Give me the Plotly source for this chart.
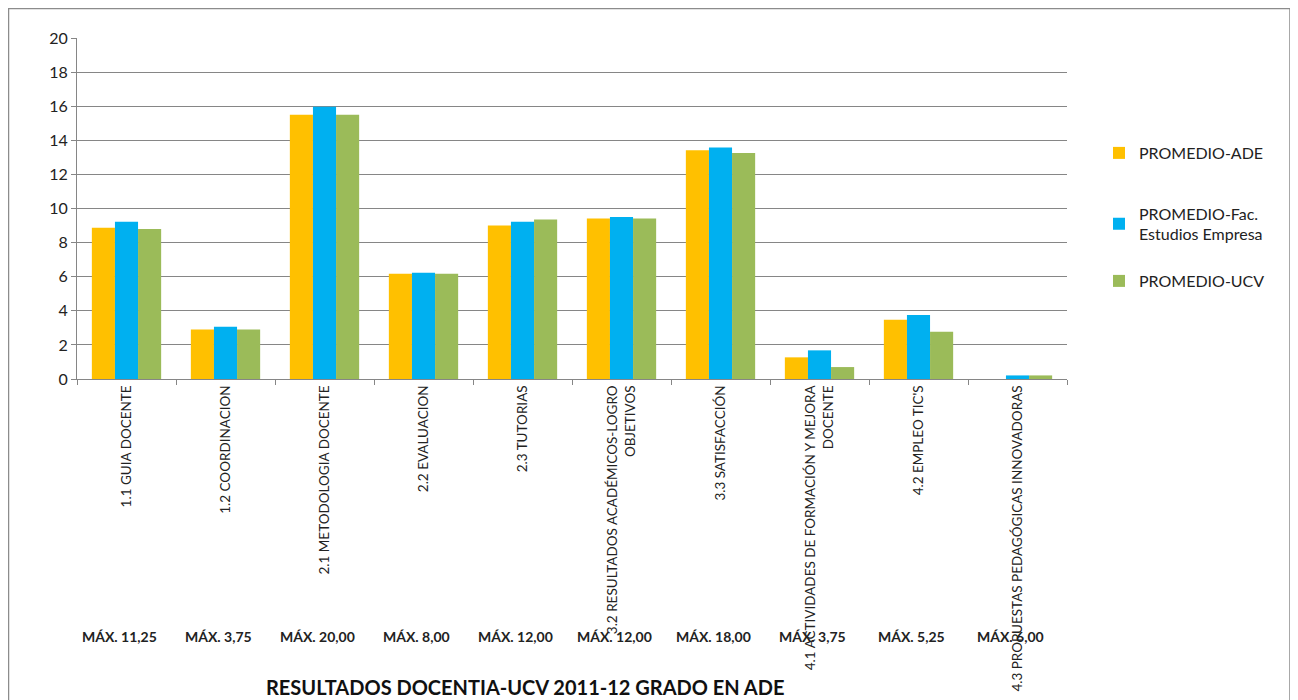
import plotly.graph_objects as go

categories = [
    "1.1 GUIA DOCENTE",
    "1.2 COORDINACION",
    "2.1 METODOLOGIA DOCENTE",
    "2.2 EVALUACION",
    "2.3 TUTORIAS",
    "3.2 RESULTADOS ACADÉMICOS-LOGRO<br>OBJETIVOS",
    "3.3 SATISFACCIÓN",
    "4.1 ACTIVIDADES DE FORMACIÓN Y MEJORA<br>DOCENTE",
    "4.2 EMPLEO TIC'S",
    "4.3 PROPUESTAS PEDAGÓGICAS INNOVADORAS",
]
promedio_ade = [8.87, 2.91, 15.5, 6.18, 9.01, 9.42, 13.41, 1.27, 3.48, 0.0]
promedio_fac = [9.22, 3.07, 15.97, 6.23, 9.22, 9.50, 13.58, 1.68, 3.75, 0.21]
promedio_ucv = [8.80, 2.91, 15.5, 6.17, 9.36, 9.42, 13.25, 0.70, 2.77, 0.21]
max_labels = ["MÁX. 11,25", "MÁX. 3,75", "MÁX. 20,00", "MÁX. 8,00", "MÁX. 12,00",
              "MÁX. 12,00", "MÁX. 18,00", "MÁX. 3,75", "MÁX. 5,25", "MÁX. 6,00"]
series_names = ["PROMEDIO-ADE", "PROMEDIO-Fac.<br>Estudios Empresa", "PROMEDIO-UCV"]
colors = ["#FFC000", "#00B0F0", "#9BBB59"]
title_text = "RESULTADOS DOCENTIA-UCV 2011-12 GRADO EN ADE"

FONT = "Lato, Open Sans, sans-serif"

# page is offset by the 8px body margin; work in figure coordinates (page - 8)
OFF = 8
W, H = 1298 - OFF, 700 - OFF
L, R, T, B = 77 - OFF, 1067 - OFF, 38 - OFF, 379 - OFF
pw, ph = R - L, B - T


def px_x(x):
    return (x - OFF - L) / pw


def px_y(y):
    return (B - (y - OFF)) / ph


legend_ids = ["legend", "legend2", "legend3"]
legend_centers = [153, 224, 281]

fig = go.Figure()
for name, vals, col, lid in zip(series_names, [promedio_ade, promedio_fac, promedio_ucv], colors, legend_ids):
    fig.add_trace(go.Bar(x=categories, y=vals, name=name, legend=lid,
                         marker=dict(color=col, line=dict(width=0))))

for cat, lab in zip(categories, max_labels):
    fig.add_annotation(x=cat, xref="x", y=px_y(636), yref="paper", text="<b>" + lab + "</b>",
                       showarrow=False, xshift=-7, xanchor="center", yanchor="middle",
                       font=dict(size=14, color="#222222", family=FONT))

fig.add_annotation(x=px_x(525), xref="paper", y=px_y(687), yref="paper", text="<b>" + title_text + "</b>",
                   showarrow=False, xanchor="center", yanchor="middle",
                   font=dict(size=20, color="#111111", family=FONT))

fig.add_shape(type="rect", xref="paper", yref="paper",
              x0=px_x(8.5), x1=px_x(1290), y0=px_y(720), y1=px_y(8.5),
              line=dict(color="#8c8c8c", width=1.5), fillcolor="rgba(0,0,0,0)", layer="below")

legend_style = dict(xanchor="left", yanchor="middle", font=dict(size=16, color="#222222", family=FONT),
                    itemwidth=30, bgcolor="rgba(0,0,0,0)")
legends = {}
for lid, yc in zip(legend_ids, legend_centers):
    legends[lid] = dict(x=px_x(1099), y=px_y(yc), **legend_style)

fig.update_layout(
    width=W, height=H,
    margin=dict(l=L, r=W - R, t=T, b=H - B, autoexpand=False),
    paper_bgcolor="white", plot_bgcolor="white",
    barmode="group", bargap=0.3, bargroupgap=0,
    font=dict(family=FONT, color="#222222"),
    showlegend=True,
    xaxis=dict(showline=True, linecolor="#868686", linewidth=1, ticks="outside", ticklen=5,
               tickcolor="#868686", tickson="boundaries", tickangle=-90, automargin=False,
               tickfont=dict(size=13.5, color="#222222", family=FONT), showgrid=False),
    yaxis=dict(range=[0, 20], dtick=2, showline=True, linecolor="#868686", linewidth=1,
               ticks="outside", ticklen=5, tickcolor="#868686", showgrid=True, automargin=False,
               gridcolor="#868686", gridwidth=1, zeroline=False,
               tickfont=dict(size=16, color="#222222", family=FONT)),
    **legends,
)

fig.write_html("out.html")
